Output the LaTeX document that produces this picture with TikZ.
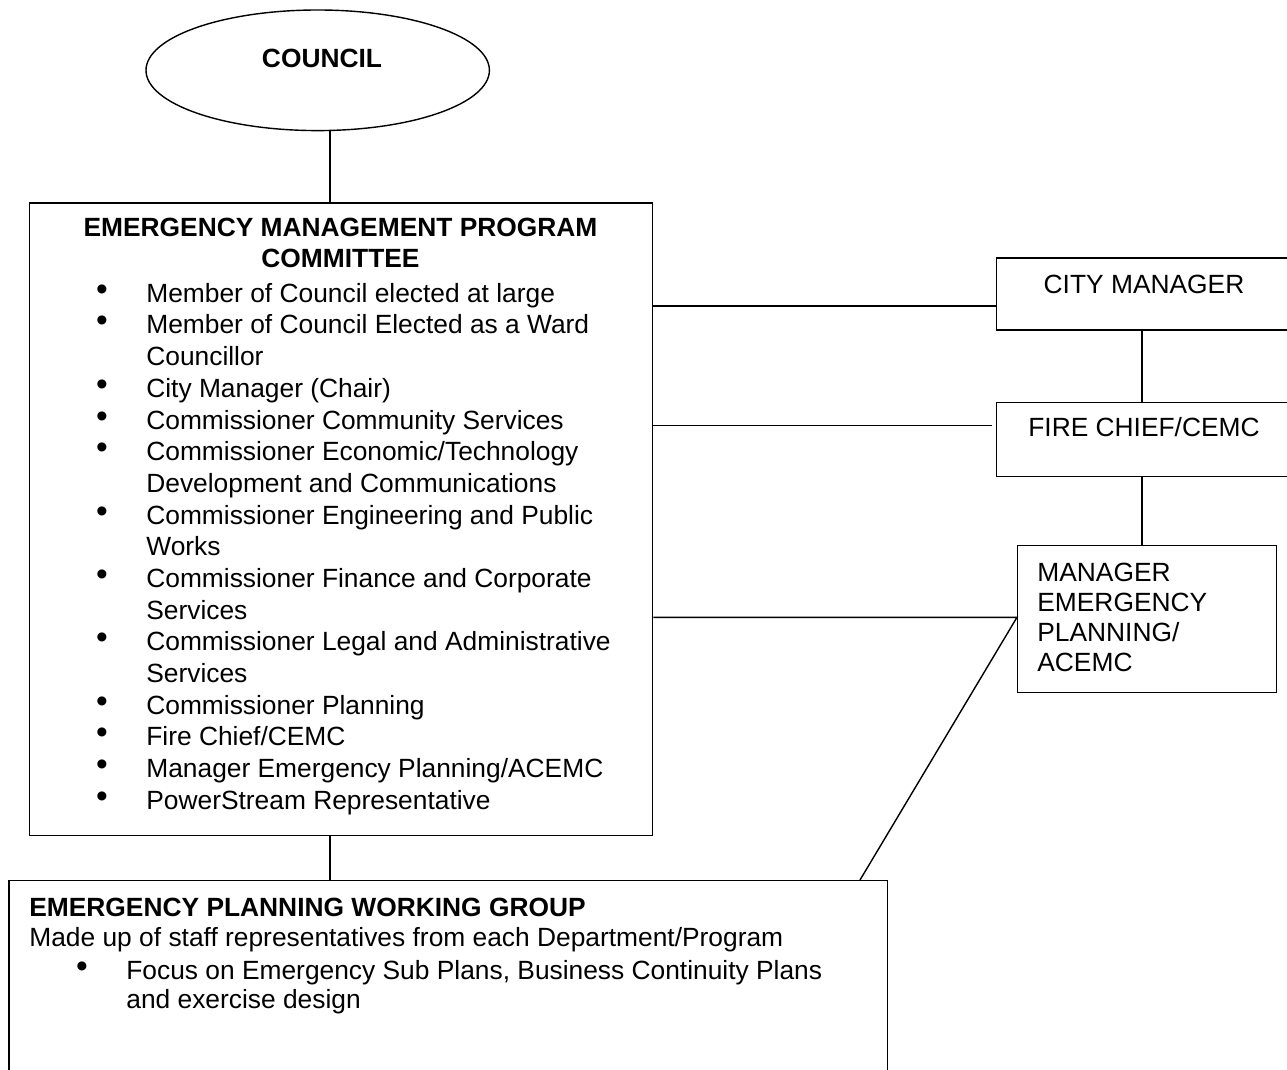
\documentclass[tikz,border=0pt]{standalone}
\usepackage{fontspec}
\setmainfont{Liberation Sans}
\usepackage{tikz}
\usetikzlibrary{shapes.geometric}
\tikzset{
  orgbox/.style={draw, line width=0.8pt, anchor=north west, inner sep=0pt},
  orgtxt/.style={inner sep=0pt, font=\fontsize{15}{18}\selectfont},
  orgdot/.style={inner sep=0pt, anchor=base, font=\fontsize{19}{18}\selectfont},
  orgline/.style={line width=0.8pt}
}

\begin{document}
\begin{tikzpicture}[x=0.02cm, y=-0.02cm]
  \def\px{0.02cm}
  \def\lh{31.69}
  \useasboundingbox (0, 0) rectangle (1287, 1070);
  \clip (0, 0) rectangle (1287, 1070);
  \coordinate (spine) at (330, 0);
  \coordinate (side) at (1142, 0);
  \coordinate (cmlink) at (0, 306);
  \coordinate (fclink) at (0, 425.7);
  \coordinate (meplink) at (0, 617.3);
  \coordinate (diaglink) at (860, 0);
  \node [ellipse, draw, orgline, inner sep=0pt] (council) at (317.7, 70.3) [minimum width=343.4*\px, minimum height=120.6*\px] {};
  \node [orgtxt, anchor=base, font=\fontsize{15}{18}\selectfont\bfseries] (councilname) at (322, 67.3) {COUNCIL};
  \node [orgbox] (empc) at (28.5, 202.5) [minimum width=623.5*\px, minimum height=632.5*\px] {};
  \node [orgbox] (epwg) at (8.3, 880) [minimum width=878.7*\px, minimum height=220*\px] {};
  \node [orgbox] (cm) at (996, 257.3) [minimum width=296*\px, minimum height=72*\px] {};
  \node [orgbox] (fc) at (996, 401.7) [minimum width=296*\px, minimum height=74.3*\px] {};
  \node [orgbox] (mep) at (1017, 545) [minimum width=259*\px, minimum height=147*\px] {};
  \node [orgtxt, anchor=base, font=\fontsize{15}{18}\selectfont\bfseries] (empctitle) at (340.5, 236.7) {EMERGENCY MANAGEMENT PROGRAM};
  \node [orgtxt, anchor=base, font=\fontsize{15}{18}\selectfont\bfseries] (empctitleb) at (340.5, 267.7) {COMMITTEE};
  \foreach \b/\t [count=\i from 0] in {1/Member of Council elected at large,
                                       1/Member of Council Elected as a Ward,
                                       0/Councillor,
                                       1/City Manager (Chair),
                                       1/Commissioner Community Services,
                                       1/{Commissioner Economic/Technology},
                                       0/Development and Communications,
                                       1/Commissioner Engineering and Public,
                                       0/Works,
                                       1/Commissioner Finance and Corporate,
                                       0/Services,
                                       1/Commissioner Legal and Administrative,
                                       0/Services,
                                       1/Commissioner Planning,
                                       1/{Fire Chief/CEMC},
                                       1/{Manager Emergency Planning/ACEMC},
                                       1/PowerStream Representative} {
    \node [orgtxt, anchor=base west] (member-\i) at (146, 302.3+\lh*\i) {\t};
    \ifnum\b=1
      \node [orgdot] (dot-\i) at (102, 300.3+\lh*\i) {\textbullet};
    \fi
  }
  \node [orgtxt, anchor=base] (cmname) at (1144, 293.3) {CITY MANAGER};
  \node [orgtxt, anchor=base] (fcname) at (1144, 436.7) {FIRE CHIEF/CEMC};
  \foreach \t [count=\i from 0] in {MANAGER, EMERGENCY, PLANNING/, ACEMC}
    \node [orgtxt, anchor=base west] (mepname-\i) at (1037, 581.7+29.8*\i) {\t};
  \node [orgtxt, anchor=base west, font=\fontsize{15}{18}\selectfont\bfseries] (epwgtitle) at (29, 916) {EMERGENCY PLANNING WORKING GROUP};
  \node [orgtxt, anchor=base west] (epwgtext) at (29, 946.7) {Made up of staff representatives from each Department/Program};
  \node [orgdot] (epwgdot) at (82, 977.3) {\textbullet};
  \node [orgtxt, anchor=base west] (epwgfocus) at (126, 979.3) {Focus on Emergency Sub Plans, Business Continuity Plans};
  \node [orgtxt, anchor=base west] (epwgfocusb) at (126, 1008) {and exercise design};
  \draw [orgline] (council.south -| spine) -- (empc.north -| spine);
  \draw [orgline] (empc.south -| spine) -- (epwg.north -| spine);
  \draw [orgline] (empc.east |- cmlink) -- (cm.west |- cmlink);
  \draw [orgline] (empc.east |- fclink) -- ([xshift=-4*\px] fc.west |- fclink);
  \draw [orgline] (empc.east |- meplink) -- (mep.west |- meplink) -- (epwg.north -| diaglink);
  \draw [orgline] (cm.south -| side) -- (fc.north -| side);
  \draw [orgline] (fc.south -| side) -- (mep.north -| side);
\end{tikzpicture}
\end{document}
